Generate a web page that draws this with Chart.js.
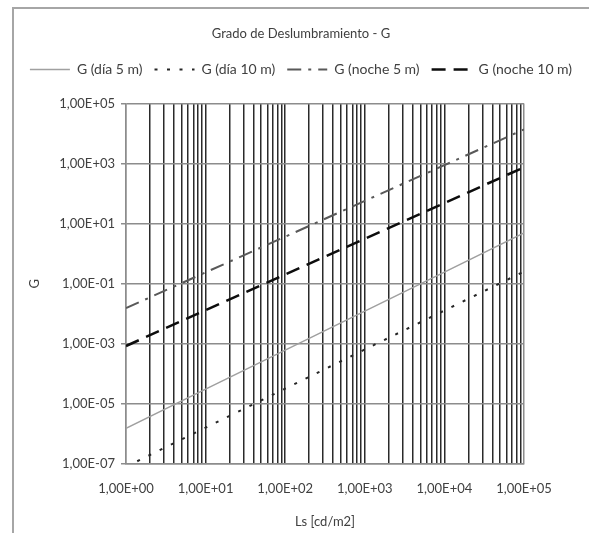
<!DOCTYPE html>
<html>
<head>
<meta charset="utf-8">
<script src="https://cdn.jsdelivr.net/npm/chart.js@4.4.1/dist/chart.umd.min.js"></script>
<style>
  html, body { margin: 0; padding: 0; background: #fff; }
  canvas { display: block; }
</style>
</head>
<body>
<canvas id="chart" width="589" height="533"></canvas>
<script>
// Ls [cd/m2] at each decade, G
const LS = [1, 10, 100, 1000, 10000, 100000];
const G_DIA_5 = [1.55e-6, 3.1e-5, 6.2e-4, 1.23e-2, 0.245, 4.9];
const G_DIA_10 = [8.1e-8, 1.62e-6, 3.24e-5, 6.5e-4, 1.29e-2, 0.257];
const G_NOCHE_5 = [1.55e-2, 0.24, 3.7, 57.5, 891, 1.38e4];
const G_NOCHE_10 = [8.5e-4, 1.32e-2, 0.204, 3.16, 49, 759];

const SERIES_LABELS = ["G (día 5 m)", "G (día 10 m)", "G (noche 5 m)", "G (noche 10 m)"];

const X_TICKS = [1, 10, 100, 1000, 10000, 100000];
const X_TICK_LABELS = ["1,00E+00", "1,00E+01", "1,00E+02", "1,00E+03", "1,00E+04", "1,00E+05"];
const X_MINOR = [1, 2, 3, 4, 5, 6, 7, 8, 9];
const Y_TICKS = [1e-7, 1e-5, 1e-3, 1e-1, 1e1, 1e3, 1e5];
const Y_TICK_LABELS = ["1,00E-07", "1,00E-05", "1,00E-03", "1,00E-01", "1,00E+01", "1,00E+03", "1,00E+05"];

const TEXT = "#404040";
const GRID_H = "#8c8c8c";
const GRID_V = "#2a2a2a";
const FRAME = "#a6a6a6";

const xLabels = new Map(X_TICKS.map((v, i) => [v, X_TICK_LABELS[i]]));
const yLabels = new Map(Y_TICKS.map((v, i) => [v, Y_TICK_LABELS[i]]));
// vertical grid at 1..9 of every decade, plus the last decade
const xGrid = X_TICKS.slice(0, -1).flatMap((d) => X_MINOR.map((m) => m * d)).concat([X_TICKS[X_TICKS.length - 1]]);

const toPoints = (ys) => LS.map((x, i) => ({ x, y: ys[i] }));

Chart.defaults.font.family = "Lato, 'Open Sans', sans-serif";
Chart.defaults.font.size = 13;
Chart.defaults.color = TEXT;

const framePlugin = {
    id: "frame",
    beforeDraw(chart) {
        const ctx = chart.ctx;
        ctx.save();
        ctx.strokeStyle = FRAME;
        ctx.lineWidth = 2;
        ctx.strokeRect(13, 8, chart.width, chart.height);
        ctx.restore();
    },
};

// legend samples should carry the dataset's dash and width
const legendLabels = (chart) =>
    Chart.defaults.plugins.legend.labels.generateLabels(chart).map((item) => {
        const ds = chart.data.datasets[item.datasetIndex];
        item.lineDash = ds.borderDash || [];
        item.lineWidth = ds.borderWidth;
        item.strokeStyle = ds.borderColor;
        return item;
    });

new Chart(document.getElementById("chart"), {
    type: "line",
    data: {
        datasets: [
            {
                label: SERIES_LABELS[0],
                data: toPoints(G_DIA_5),
                borderColor: "#a0a0a0",
                borderWidth: 1.5,
            },
            {
                label: SERIES_LABELS[1],
                data: toPoints(G_DIA_10),
                borderColor: "#262626",
                borderWidth: 2,
                borderDash: [3, 9.5],
            },
            {
                label: SERIES_LABELS[2],
                data: toPoints(G_NOCHE_5),
                borderColor: "#595959",
                borderWidth: 2,
                borderDash: [14, 7, 3, 7],
            },
            {
                label: SERIES_LABELS[3],
                data: toPoints(G_NOCHE_10),
                borderColor: "#0d0d0d",
                borderWidth: 2.5,
                borderDash: [14, 8],
            },
        ],
    },
    options: {
        responsive: false,
        animation: false,
        devicePixelRatio: 1,
        layout: { padding: { top: 10, left: 13, right: 0, bottom: 0 } },
        elements: {
            point: { radius: 0 },
            line: { tension: 0, fill: false },
        },
        plugins: {
            tooltip: { enabled: false },
            title: {
                display: true,
                text: "Grado de Deslumbramiento - G",
                color: TEXT,
                font: { size: 13, weight: "normal" },
                padding: { top: 16, bottom: 9 },
            },
            legend: {
                position: "top",
                labels: {
                    usePointStyle: true,
                    pointStyle: "line",
                    pointStyleWidth: 40,
                    padding: 12,
                    color: TEXT,
                    font: { size: 14 },
                    generateLabels: legendLabels,
                },
            },
        },
        scales: {
            x: {
                type: "logarithmic",
                position: "bottom",
                min: 1,
                max: 100000,
                afterBuildTicks: (s) => { s.ticks = xGrid.map((v) => ({ value: v })); },
                afterFit: (s) => { s.height = 69; },
                grid: {
                    color: (c) => (c.tick && (c.tick.value === 1 || c.tick.value === 100000) ? GRID_H : GRID_V),
                    lineWidth: 1.5,
                    drawTicks: false,
                },
                border: { color: GRID_H, width: 1.5 },
                ticks: {
                    autoSkip: false,
                    maxRotation: 0,
                    padding: 17,
                    callback: (v) => xLabels.get(v) || "",
                },
                title: {
                    display: true,
                    text: "Ls [cd/m2]",
                    padding: { top: 0, bottom: 3 },
                },
            },
            y: {
                type: "logarithmic",
                position: "left",
                min: 1e-7,
                max: 1e5,
                afterBuildTicks: (s) => { s.ticks = Y_TICKS.map((v) => ({ value: v })); },
                afterFit: (s) => { s.width = 113; },
                grid: { color: GRID_H, lineWidth: 1.5, tickLength: 5 },
                border: { color: GRID_H, width: 1.5 },
                ticks: {
                    autoSkip: false,
                    padding: 6,
                    callback: (v) => yLabels.get(v) || "",
                },
                title: {
                    display: true,
                    text: "G",
                    padding: { top: 14, bottom: 0 },
                },
            },
            // spacers to place the plot area like the reference
            topSpace: {
                type: "linear",
                position: "top",
                grid: { display: false },
                border: { display: false },
                ticks: { display: false },
                afterFit: (s) => { s.height = 17; },
            },
            rightSpace: {
                type: "linear",
                position: "right",
                grid: { display: false },
                border: { display: false },
                ticks: { display: false },
                afterFit: (s) => { s.width = 65; },
            },
        },
    },
    plugins: [framePlugin],
});
</script>
</body>
</html>
